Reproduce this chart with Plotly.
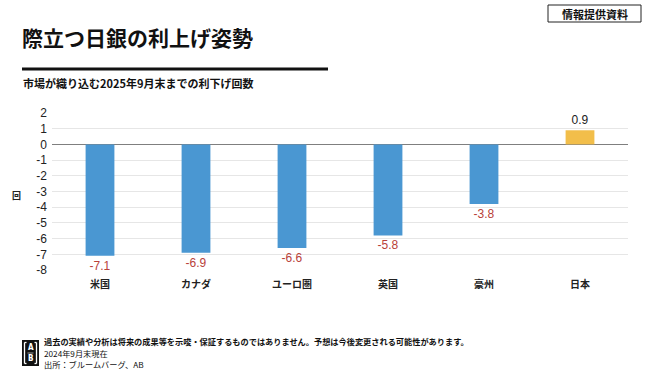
import plotly.graph_objects as go

categories = ["米国", "カナダ", "ユーロ圏", "英国", "豪州", "日本"]
values = [-7.1, -6.9, -6.6, -5.8, -3.8, 0.9]
tick_vals = [2, 1, 0, -1, -2, -3, -4, -5, -6, -7, -8]

FONT = "Noto Sans CJK JP"
bar_colors = ["#F2BE4A" if v > 0 else "#4A97D2" for v in values]
text_colors = ["#222222" if v > 0 else "#B8413A" for v in values]

W, H = 650, 371
L, R, T, B = 52, 628, 113, 270  # plot area in pixels


def px(x):
    return (x - L) / (R - L)


def py(y):
    return (B - y) / (B - T)


fig = go.Figure()
fig.add_trace(go.Bar(
    x=categories, y=values,
    marker=dict(color=bar_colors, line=dict(width=0)),
    width=0.3,
    text=[f"{v:.1f}" for v in values],
    textposition="outside",
    textfont=dict(family="Liberation Sans, Arial", size=12, color=text_colors),
    cliponaxis=False,
))

fig.update_layout(
    width=W, height=H,
    margin=dict(l=L, r=W - R, t=T, b=H - B, autoexpand=False),
    paper_bgcolor="white", plot_bgcolor="white",
    showlegend=False,
    font=dict(family=FONT, color="#222222"),
    xaxis=dict(showgrid=False, showline=False, ticks="",
               tickvals=categories, ticktext=[f"<b>{c}</b>" for c in categories],
               tickfont=dict(family=FONT, size=10, color="#222222"),
               ticklabelstandoff=7),
    yaxis=dict(range=[-8, 2], tickvals=tick_vals, ticktext=[str(t) for t in tick_vals],
               showgrid=True, gridcolor="#E6E6E6", gridwidth=1,
               zeroline=True, zerolinecolor="#7F7F7F", zerolinewidth=1.2,
               showline=False, ticks="",
               tickfont=dict(family="Liberation Sans, Arial", size=12, color="#222222"),
               ticklabelstandoff=4),
)


def note(x, y, text, size, color="#111111", family=FONT, xanchor="left"):
    fig.add_annotation(x=px(x), y=py(y), xref="x domain", yref="y domain",
                       showarrow=False, xanchor=xanchor, yanchor="middle",
                       text=text, font=dict(family=family, size=size, color=color))


def seg(x0, y0, x1, y1, color, width):
    fig.add_shape(type="line", xref="x domain", yref="y domain",
                  x0=px(x0), x1=px(x1), y0=py(y0), y1=py(y1),
                  line=dict(color=color, width=width))


# y-axis unit label
note(16, 195, "<b>回</b>", 9, color="#222222", xanchor="center")

# Title
note(20, 37, "<b>際立つ日銀の利上げ姿勢</b>", 21)

# Horizontal rule under title
seg(22, 69, 328, 69, "#111111", 3)

# Subtitle
note(21, 83, "<b>市場が織り込む2025年9月末までの利下げ回数</b>", 11)

# Top-right box
fig.add_shape(type="rect", xref="x domain", yref="y domain",
              x0=px(548), x1=px(641), y0=py(5), y1=py(22),
              line=dict(color="#222222", width=1), fillcolor="white")
note(594.5, 13.5, "<b>情報提供資料</b>", 11, xanchor="center")

# Footer logo
fig.add_shape(type="rect", xref="x domain", yref="y domain",
              x0=px(22), x1=px(39), y0=py(340), y1=py(366),
              line=dict(width=0), fillcolor="#111111")
# brackets
seg(24.5, 342.5, 24.5, 363.5, "white", 1.3)
seg(24.5, 342.5, 26.5, 342.5, "white", 1.3)
seg(24.5, 363.5, 26.5, 363.5, "white", 1.3)
seg(36.5, 342.5, 36.5, 363.5, "white", 1.3)
seg(34.5, 342.5, 36.5, 342.5, "white", 1.3)
seg(34.5, 363.5, 36.5, 363.5, "white", 1.3)
seg(27.5, 353, 33.5, 353, "white", 0.6)
note(30.5, 347.5, "<b>A</b>", 8, color="white", family="DejaVu Sans Condensed", xanchor="center")
note(30.5, 358.5, "<b>B</b>", 8, color="white", family="DejaVu Sans Condensed", xanchor="center")

footer_lines = [
    ("<b>過去の実績や分析は将来の成果等を示唆・保証するものではありません。予想は今後変更される可能性があります。</b>", 341),
    ("2024年9月末現在", 353),
    ("出所：ブルームバーグ、AB", 364),
]
for txt, yy in footer_lines:
    note(42, yy, txt, 8.2)

fig.write_html("out.html", config={"displayModeBar": False},
               post_script="document.body.style.margin='0';document.body.style.padding='0';")
